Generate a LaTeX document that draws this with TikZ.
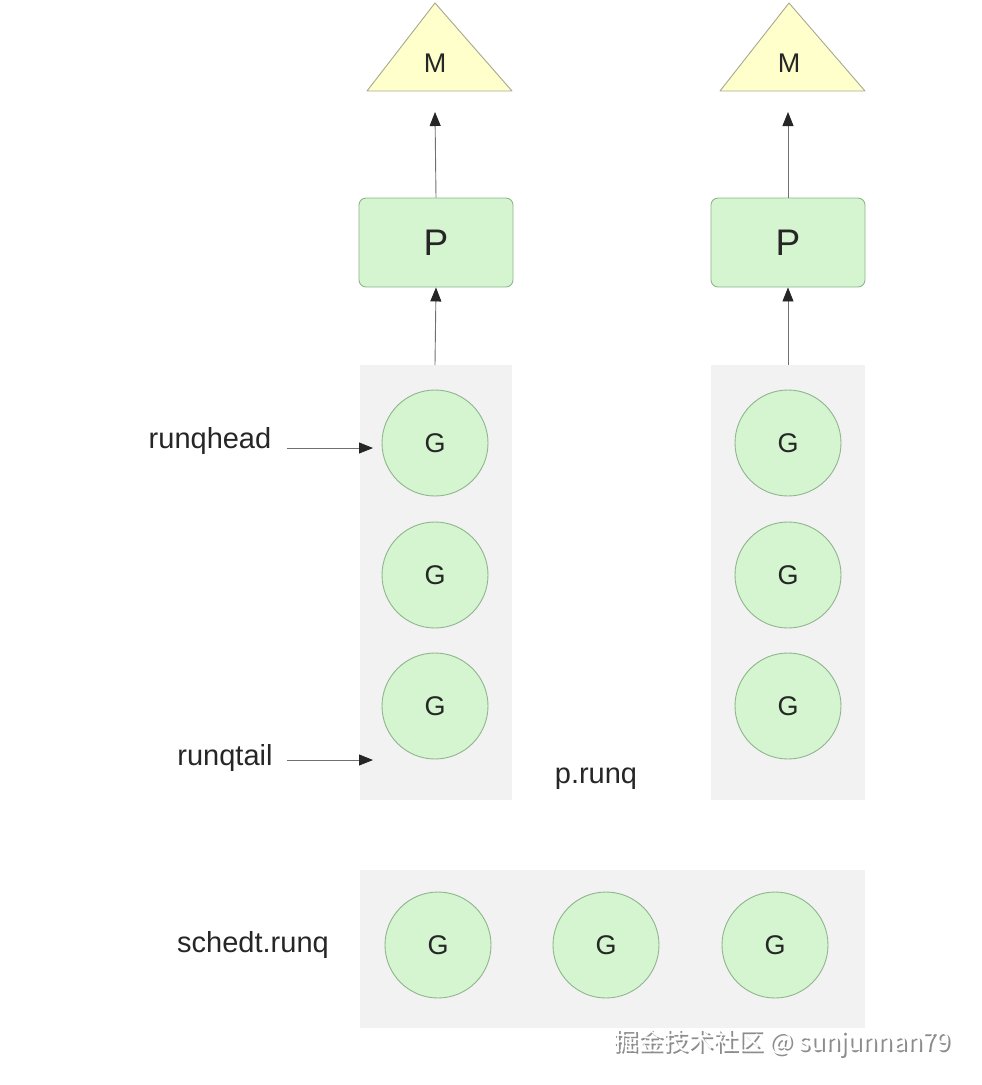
\documentclass[tikz,border=0pt]{standalone}
\usepackage{fontspec}
\setmainfont{Liberation Sans}
\newfontfamily\cjk{Noto Sans CJK SC}
\usetikzlibrary{arrows.meta}
\definecolor{gfill}{HTML}{D4F5D0}
\definecolor{gline}{HTML}{8FB58C}
\definecolor{mfill}{HTML}{FFFFCC}
\definecolor{mline}{HTML}{A8A890}
\definecolor{qfill}{HTML}{F2F2F2}
\definecolor{aline}{HTML}{707070}
\tikzset{
  gnode/.style={circle,draw=gline,fill=gfill,line width=0.9pt,minimum size=106pt,inner sep=0pt,font=\fontsize{27}{30}\selectfont,text=black!85},
  pnode/.style={rectangle,rounded corners=7pt,draw=gline,fill=gfill,line width=0.9pt,minimum width=154pt,minimum height=89pt,inner sep=0pt,font=\fontsize{37}{40}\selectfont,text=black!85},
  mtri/.style={draw=mline,fill=mfill,line width=0.9pt,line join=round},
  mlbl/.style={font=\fontsize{27}{30}\selectfont,text=black!85},
  qbox/.style={fill=qfill,draw=none},
  lbl/.style={font=\fontsize{29}{34}\selectfont,text=black!85},
  conn/.style={draw=aline,line width=0.9pt,-{Triangle[length=14pt,width=11pt,color=black!85]}}
}
\begin{document}
\begin{tikzpicture}[x=1pt,y=-1pt]
\useasboundingbox (0,0) rectangle (982,1085);
% run queue backgrounds
\fill[qbox] (360,365) rectangle (512,800);
\fill[qbox] (711,365) rectangle (865,800);
\fill[qbox] (360,870) rectangle (865,1028);
\coordinate (q1top) at (435,365);
\coordinate (q2top) at (788,365);
% M triangles
\draw[mtri] (435,3) -- (512,91) -- (367,91) -- cycle;
\draw[mtri] (789,3) -- (865,91) -- (720,91) -- cycle;
\node[mlbl] (m1) at (435,63) {M};
\node[mlbl] (m2) at (789,63) {M};
\coordinate (m1b) at (435,112);
\coordinate (m2b) at (788,112);
% P boxes
\node[pnode] (p1) at (436,242.5) {P};
\node[pnode] (p2) at (788,242.5) {P};
% G circles
\node[gnode] (g11) at (435,443) {G};
\node[gnode] (g12) at (435,575) {G};
\node[gnode] (g13) at (435,706) {G};
\node[gnode] (g21) at (788,443) {G};
\node[gnode] (g22) at (788,575) {G};
\node[gnode] (g23) at (788,706) {G};
\node[gnode] (s1) at (438,945) {G};
\node[gnode] (s2) at (606,945) {G};
\node[gnode] (s3) at (775,945) {G};
% labels
\node[lbl] (head) at (210,441) {runqhead};
\node[lbl] (tail) at (225,758) {runqtail};
\node[lbl] (prunq) at (596,779) {p.runq};
\node[lbl] (sched) at (253,945) {schedt.runq};
\coordinate (headstart) at (287,448);
\coordinate (headend) at (373,448);
\coordinate (tailstart) at (287,760);
\coordinate (tailend) at (373,760);
% connectors
\draw[conn] (p1.north) -- (m1b);
\draw[conn] (p2.north) -- (m2b);
\draw[conn] (q1top) -- (p1.south);
\draw[conn] (q2top) -- (p2.south);
\draw[conn] (headstart) -- (headend);
\draw[conn] (tailstart) -- (tailend);
% watermark
\node[font=\fontsize{25}{30}\selectfont,text=black!45] (wm0) at (783.8,1044.8) {\cjk 掘金技术社区 @ sunjunnan79};
\node[font=\fontsize{25}{30}\selectfont,text=white] (wm) at (782,1043) {\cjk 掘金技术社区 @ sunjunnan79};
\end{tikzpicture}
\end{document}
